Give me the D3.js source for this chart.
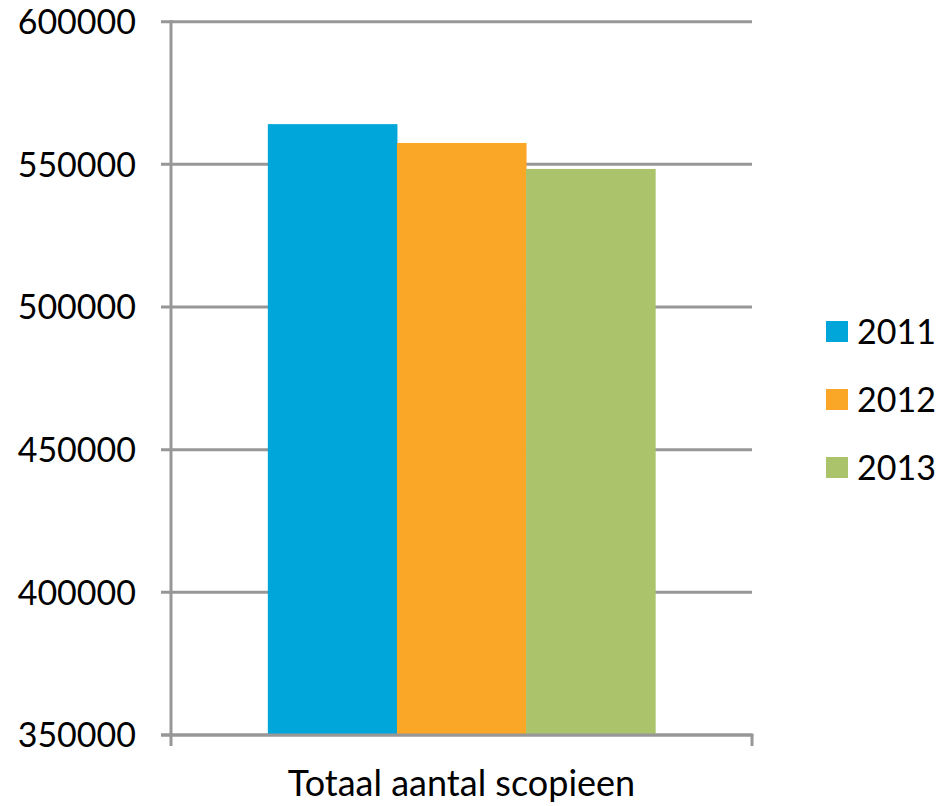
<!DOCTYPE html>
<html>
<head>
<meta charset="utf-8">
<script src="https://cdn.jsdelivr.net/npm/d3@7"></script>
<style>
  html, body { margin: 0; padding: 0; background: #fff; }
  svg { display: block; }
  text { font-family: "Lato", "Liberation Sans", sans-serif; fill: #000; }
</style>
</head>
<body>
<svg id="chart" width="938" height="806"></svg>
<script>
// Chart data
const categories = ["Totaal aantal scopieen"];
const years = ["2011", "2012", "2013"];
const values2011 = [564100];
const values2012 = [557500];
const values2013 = [548400];
const yTicks = [350000, 400000, 450000, 500000, 550000, 600000];
const colors = ["#00A6D9", "#FAA626", "#ABC46C"];

const seriesValues = [values2011, values2012, values2013];

const svg = d3.select("#chart");
const plot = { left: 171, right: 752, top: 21.7, bottom: 735 };
const gridColor = "#979797";
const fontSize = 34;

const y = d3.scaleLinear()
  .domain([350000, 600000])
  .range([plot.bottom, plot.top]);

const x0 = d3.scaleBand()
  .domain(categories)
  .range([plot.left, plot.right])
  .paddingInner(0)
  .paddingOuter(0.25);

const x1 = d3.scaleBand()
  .domain(years)
  .range([0, x0.bandwidth()])
  .padding(0);

// Horizontal gridlines (with short tick stubs left of the axis)
svg.append("g")
  .selectAll("line")
  .data(yTicks)
  .join("line")
  .attr("x1", plot.left - 10)
  .attr("x2", plot.right)
  .attr("y1", d => y(d))
  .attr("y2", d => y(d))
  .attr("stroke", gridColor)
  .attr("stroke-width", 3);

// Bars
const groups = svg.append("g")
  .selectAll("g")
  .data(categories)
  .join("g")
  .attr("transform", d => `translate(${x0(d)},0)`);

groups.selectAll("rect")
  .data((d, i) => years.map((yr, k) => ({ year: yr, value: seriesValues[k][i], color: colors[k] })))
  .join("rect")
  .attr("x", d => x1(d.year))
  .attr("width", x1.bandwidth() + 0.5)
  .attr("y", d => y(d.value))
  .attr("height", d => y(350000) - y(d.value))
  .attr("fill", d => d.color);

// Vertical axis line
svg.append("line")
  .attr("x1", plot.left).attr("x2", plot.left)
  .attr("y1", plot.top - 1.5).attr("y2", plot.bottom + 11)
  .attr("stroke", gridColor)
  .attr("stroke-width", 3);

// Category axis line and end ticks
svg.append("line")
  .attr("x1", plot.left - 10).attr("x2", plot.right + 1.5)
  .attr("y1", plot.bottom).attr("y2", plot.bottom)
  .attr("stroke", gridColor)
  .attr("stroke-width", 3);
svg.append("line")
  .attr("x1", plot.right).attr("x2", plot.right)
  .attr("y1", plot.bottom).attr("y2", plot.bottom + 11)
  .attr("stroke", gridColor)
  .attr("stroke-width", 3);

// Y tick labels
svg.append("g")
  .selectAll("text")
  .data(yTicks)
  .join("text")
  .attr("x", 136)
  .attr("y", d => y(d))
  .attr("dy", "0.36em")
  .attr("text-anchor", "end")
  .attr("font-size", fontSize)
  .text(d => d);

// Category label
svg.append("text")
  .attr("x", x0(categories[0]) + x0.bandwidth() / 2)
  .attr("y", 796)
  .attr("text-anchor", "middle")
  .attr("font-size", 36)
  .text(categories[0]);

// Legend
const legend = svg.append("g")
  .selectAll("g")
  .data(years)
  .join("g")
  .attr("transform", (d, i) => `translate(826,${321 + i * 68})`);

legend.append("rect")
  .attr("width", 22)
  .attr("height", 21)
  .attr("fill", (d, i) => colors[i]);

legend.append("text")
  .attr("x", 31)
  .attr("y", 11)
  .attr("dy", "0.36em")
  .attr("font-size", fontSize)
  .text(d => d);
</script>
</body>
</html>
